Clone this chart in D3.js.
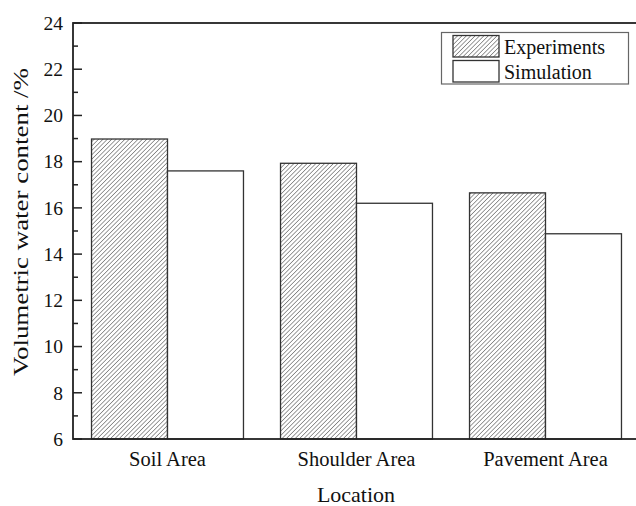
<!DOCTYPE html>
<html>
<head>
<script src="https://d3js.org/d3.v7.min.js"></script>
<style>
  body { margin: 0; background: #fff; }
  text { font-family: "Liberation Serif", "Times New Roman", serif; fill: #111; }
</style>
</head>
<body>
<div id="chart"></div>
<script>
var categories = ["Soil Area", "Shoulder Area", "Pavement Area"];
var seriesNames = ["Experiments", "Simulation"];
var experiments = [18.98, 17.93, 16.65];
var simulation = [17.6, 16.2, 14.88];
var yTicks = [6, 8, 10, 12, 14, 16, 18, 20, 22, 24];

var width = 636, height = 506;
var margin = { top: 23, right: -4, bottom: 67, left: 73 };
var innerW = width - margin.left - margin.right;
var innerH = height - margin.top - margin.bottom;

var svg = d3.select("#chart").append("svg")
  .attr("width", width)
  .attr("height", height);

var defs = svg.append("defs");
var pat = defs.append("pattern")
  .attr("id", "hatch")
  .attr("patternUnits", "userSpaceOnUse")
  .attr("width", 3.1)
  .attr("height", 3.1)
  .attr("patternTransform", "rotate(45)");
pat.append("rect").attr("width", 3.1).attr("height", 3.1).attr("fill", "#fff");
pat.append("line")
  .attr("x1", 0).attr("y1", 0).attr("x2", 0).attr("y2", 3.1)
  .attr("stroke", "#3a3a3a").attr("stroke-width", 1);

var g = svg.append("g")
  .attr("transform", "translate(" + margin.left + "," + margin.top + ")");

var x = d3.scaleBand()
  .domain(categories)
  .range([0, innerW])
  .paddingInner(0.196)
  .paddingOuter(0.098);

var xSub = d3.scaleBand()
  .domain(seriesNames)
  .range([0, x.bandwidth()])
  .padding(0);

var y = d3.scaleLinear().domain([6, 24]).range([innerH, 0]);

var rows = categories.map(function (c, i) {
  return { cat: c, values: [
    { name: "Experiments", v: experiments[i] },
    { name: "Simulation", v: simulation[i] }
  ] };
});

var groups = g.selectAll(".grp").data(rows).enter().append("g")
  .attr("transform", function (d) { return "translate(" + x(d.cat) + ",0)"; });

groups.selectAll("rect").data(function (d) { return d.values; }).enter().append("rect")
  .attr("x", function (d) { return xSub(d.name); })
  .attr("y", function (d) { return y(d.v); })
  .attr("width", xSub.bandwidth())
  .attr("height", function (d) { return innerH - y(d.v); })
  .attr("fill", function (d) { return d.name === "Experiments" ? "url(#hatch)" : "#fff"; })
  .attr("stroke", "#333")
  .attr("stroke-width", 1.3);

// frame
g.append("rect")
  .attr("x", 0).attr("y", 0)
  .attr("width", innerW).attr("height", innerH)
  .attr("fill", "none")
  .attr("stroke", "#222")
  .attr("stroke-width", 1.8);

// y axis: inward ticks, major and minor
var minor = d3.range(7, 24, 2);
g.selectAll(".minor").data(minor).enter().append("line")
  .attr("x1", 0).attr("x2", 5)
  .attr("y1", function (d) { return y(d); })
  .attr("y2", function (d) { return y(d); })
  .attr("stroke", "#222").attr("stroke-width", 1.5);

g.selectAll(".major").data(yTicks).enter().append("line")
  .attr("x1", 0).attr("x2", 9)
  .attr("y1", function (d) { return y(d); })
  .attr("y2", function (d) { return y(d); })
  .attr("stroke", "#222").attr("stroke-width", 1.5);

g.selectAll(".ylab").data(yTicks).enter().append("text")
  .attr("x", -10)
  .attr("y", function (d) { return y(d); })
  .attr("dy", "0.35em")
  .attr("text-anchor", "end")
  .attr("font-size", 19.5)
  .text(function (d) { return d; });

g.selectAll(".xlab").data(categories).enter().append("text")
  .attr("x", function (d) { return x(d) + x.bandwidth() / 2; })
  .attr("y", innerH + 27)
  .attr("text-anchor", "middle")
  .attr("font-size", 20.5)
  .text(function (d) { return d; });

svg.append("text")
  .attr("x", 356)
  .attr("y", 502)
  .attr("text-anchor", "middle")
  .attr("font-size", 22)
  .text("Location");

svg.append("text")
  .attr("transform", "translate(27.5,222) rotate(-90)")
  .attr("text-anchor", "middle")
  .attr("font-size", 21.5)
  .attr("textLength", 308)
  .attr("lengthAdjust", "spacingAndGlyphs")
  .text("Volumetric water content /%");

// legend
var leg = svg.append("g");
leg.append("rect")
  .attr("x", 441.5).attr("y", 32.5)
  .attr("width", 187).attr("height", 51.5)
  .attr("fill", "#fff")
  .attr("stroke", "#666").attr("stroke-width", 1.2);

var legItems = leg.selectAll(".li").data(seriesNames).enter().append("g")
  .attr("transform", function (d, i) { return "translate(453," + (35.5 + i * 25) + ")"; });
legItems.append("rect")
  .attr("width", 46).attr("height", 21.5)
  .attr("fill", function (d) { return d === "Experiments" ? "url(#hatch)" : "#fff"; })
  .attr("stroke", "#333").attr("stroke-width", 1.3);
legItems.append("text")
  .attr("x", 51).attr("y", 11)
  .attr("dy", "0.35em")
  .attr("font-size", 20)
  .text(function (d) { return d; });
</script>
</body>
</html>
